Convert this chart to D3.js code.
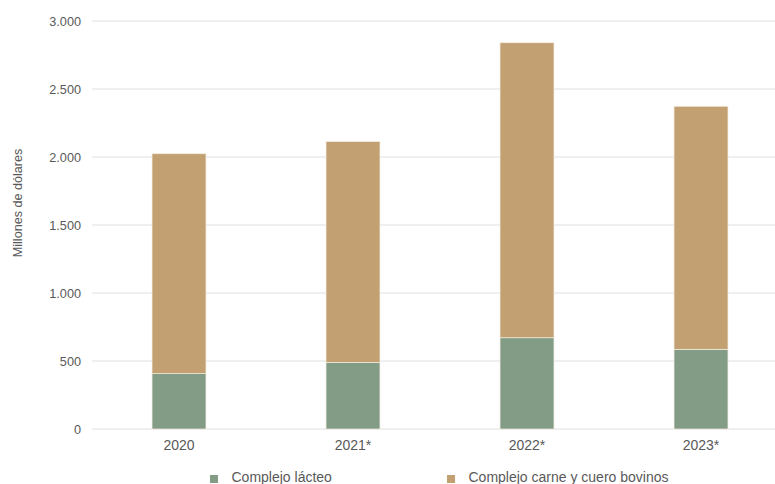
<!DOCTYPE html>
<html><head><meta charset="utf-8">
<script src="https://cdn.jsdelivr.net/npm/d3@7"></script>
<style>body{margin:0;background:#fff}svg{display:block;font-family:Arial,"Liberation Sans",sans-serif}</style>
</head><body><svg id="c" width="775" height="484"></svg>
<script>
const categories = ["2020","2021*","2022*","2023*"];
const lacteo = [407, 490, 671, 586];
const carne = [1617, 1623, 2169, 1787];
const seriesNames = ["Complejo lácteo","Complejo carne y cuero bovinos"];
const colors = ["#839C86","#C2A072"];
const yTicks = [0,500,1000,1500,2000,2500,3000];

const svg = d3.select("#c");
const x = d3.scaleBand().domain(categories).range([92,788]).paddingInner(0.69).paddingOuter(0.345);
const y = d3.scaleLinear().domain([0,3000]).range([429,21]);
const fmt = d => d3.format(",")(d).replace(/,/g,".");

svg.append("g").selectAll("line").data(yTicks).join("line")
  .attr("x1",92).attr("x2",775).attr("y1",d=>y(d)).attr("y2",d=>y(d))
  .attr("stroke","#e0e0e0").attr("stroke-width",1);
svg.append("g").selectAll("text").data(yTicks).join("text")
  .attr("x",81).attr("y",d=>y(d)+4.5).attr("text-anchor","end")
  .attr("font-size",12.7).attr("fill","#595959").text(fmt);

const data = categories.map((c,i)=>({c, v:[lacteo[i], carne[i]]}));
const stack = d3.stack().keys([0,1]).value((d,k)=>d.v[k])(data);
svg.append("g").selectAll("g").data(stack).join("g").attr("fill",(d,i)=>colors[i])
  .selectAll("rect").data(d=>d).join("rect")
  .attr("x",d=>x(d.data.c)).attr("width",x.bandwidth())
  .attr("y",d=>y(d[1])).attr("height",d=>y(d[0])-y(d[1]))
  .attr("stroke","#f3ece0").attr("stroke-width",0.7);

svg.append("g").selectAll("text").data(categories).join("text")
  .attr("x",d=>x(d)+x.bandwidth()/2).attr("y",450).attr("text-anchor","middle")
  .attr("font-size",14).attr("fill","#595959").text(d=>d);

svg.append("text").attr("transform","translate(22,203) rotate(-90)")
  .attr("text-anchor","middle").attr("font-size",12.6).attr("fill","#595959").text("Millones de dólares");

const legX = [210, 447];
const lg = svg.append("g").selectAll("g").data(seriesNames).join("g")
  .attr("transform",(d,i)=>`translate(${legX[i]},475)`);
lg.append("rect").attr("width",8).attr("height",8).attr("fill",(d,i)=>colors[i]);
lg.append("text").attr("x",21.5).attr("y",7).attr("font-size",14).attr("fill","#595959").text(d=>d);
</script></body></html>
